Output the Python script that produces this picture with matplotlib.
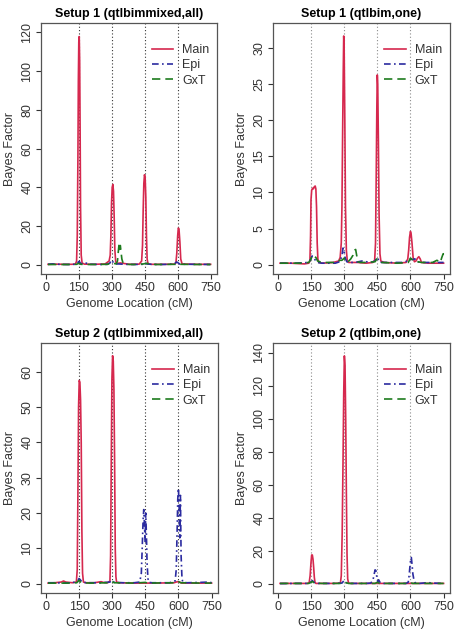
import numpy as np
import matplotlib
matplotlib.use("Agg")
import matplotlib.pyplot as plt

plt.rcParams['font.family'] = ['Liberation Sans', 'DejaVu Sans']

MAIN_COL = "#D6284E"
EPI_COL = "#2B2BA0"
GXT_COL = "#1E7B1E"

titles = ["Setup 1 (qtlbimmixed,all)", "Setup 1 (qtlbim,one)",
          "Setup 2 (qtlbimmixed,all)", "Setup 2 (qtlbim,one)"]
qtl_locs = [150, 300, 450, 600]
x_ticks = [0, 150, 300, 450, 600, 750]

# ---- Setup 1, qtlbimmixed/all ----
p1_main_x = [10, 40, 80, 120, 135, 140, 143, 146, 148, 150, 152, 154, 156, 158, 161, 165, 175, 220, 270,
             288, 293, 296, 299, 302, 305, 308, 311, 314, 318, 325, 340, 380, 425, 436, 440, 443, 446, 449,
             452, 455, 458, 461, 465, 480, 540, 585, 592, 596, 600, 603, 606, 610, 614, 620, 680, 750]
p1_main_y = [0.3, 0.4, 0.3, 0.3, 0.5, 2, 15, 55, 95, 115, 117.8, 105, 70, 30, 5, 1, 0.4, 0.3, 0.5,
             2, 5, 15, 32, 40, 41.5, 38, 25, 8, 1.5, 0.8, 1.0, 0.3, 0.4, 2, 10, 28, 42, 46.5,
             45, 35, 15, 3, 0.6, 0.3, 0.3, 0.4, 1, 6, 15, 19, 18.5, 12, 3, 0.5, 0.3, 0.3]
p1_epi_x = [10, 30, 60, 100, 130, 140, 148, 152, 158, 170, 180, 188, 195, 210, 250, 280, 292, 298, 303,
            308, 315, 330, 360, 400, 440, 448, 452, 458, 480, 520, 560, 585, 595, 600, 610, 640, 700, 750]
p1_epi_y = [0.3, 0.5, 0.3, 0.2, 0.3, 0.5, 1.5, 1.8, 0.8, 0.4, 1.0, 0.8, 0.3, 0.3, 0.2, 0.3, 1.0, 2.5, 2.0,
            1.0, 0.4, 0.5, 0.3, 0.2, 0.3, 1.0, 1.2, 0.5, 0.3, 0.2, 0.3, 0.5, 1.5, 1.2, 0.4, 0.3, 0.3, 0.2]
p1_gxt_x = [10, 100, 140, 150, 160, 200, 280, 300, 320, 326, 330, 333, 336, 339, 342, 346, 352, 360, 400,
            445, 455, 500, 590, 600, 610, 700, 750]
p1_gxt_y = [0.2, 0.2, 0.3, 0.8, 0.3, 0.2, 0.3, 1.0, 0.5, 2, 7, 10.5, 8, 10, 7, 3, 0.8, 0.3, 0.2,
            0.5, 0.8, 0.2, 0.3, 0.8, 0.3, 0.2, 0.2]

# ---- Setup 1, qtlbim/one ----
p2_main_x = [10, 60, 120, 140, 145, 148, 150, 153, 157, 161, 165, 169, 172, 175, 178, 181, 185, 200, 250,
             275, 282, 287, 290, 293, 296, 298, 300, 303, 306, 310, 314, 320, 360, 400, 430, 438, 442, 445,
             448, 450, 452, 455, 458, 462, 466, 480, 540, 580, 588, 592, 596, 600, 603, 607, 612, 618, 625,
             632, 638, 644, 650, 680, 740, 750]
p2_main_y = [0.2, 0.2, 0.1, 0.2, 0.5, 4, 9, 10.3, 10.6, 10.5, 10.8, 10.9, 10.5, 8, 3, 0.8, 0.3, 0.2, 0.3,
             0.5, 1, 3, 8, 18, 27, 31.7, 30, 20, 8, 2, 0.6, 0.3, 0.3, 0.2, 0.3, 0.6, 3, 12,
             22, 26.3, 25, 17, 7, 1.5, 0.5, 0.3, 0.2, 0.3, 0.8, 2, 3.8, 4.6, 4.3, 3, 1, 0.4, 0.5,
             0.9, 1.1, 0.8, 0.3, 0.2, 0.2, 0.2]
p2_epi_x = [10, 80, 140, 150, 155, 160, 170, 180, 200, 260, 280, 290, 295, 300, 305, 312, 320, 350, 380,
            400, 420, 440, 448, 452, 458, 470, 520, 560, 590, 600, 610, 620, 630, 660, 700, 750]
p2_epi_y = [0.2, 0.2, 0.3, 0.8, 1.2, 1.0, 0.6, 0.3, 0.2, 0.2, 0.4, 1.2, 2.3, 1.8, 0.9, 0.4, 0.3, 0.3, 0.5,
            0.4, 0.3, 0.5, 1.0, 0.9, 0.4, 0.3, 0.3, 0.3, 0.5, 0.8, 0.7, 0.8, 0.4, 0.3, 0.3, 0.3]
p2_gxt_x = [10, 100, 140, 150, 155, 165, 172, 180, 200, 250, 270, 280, 290, 300, 305, 315, 330, 340, 348,
            352, 356, 362, 372, 400, 440, 448, 455, 470, 540, 590, 600, 615, 650, 700, 720, 735, 742, 748, 752]
p2_gxt_y = [0.2, 0.2, 0.3, 0.8, 1.3, 1.1, 1.0, 0.5, 0.3, 0.3, 0.4, 0.6, 0.6, 0.9, 0.5, 0.3, 0.8, 1.3, 2.0,
            2.1, 1.4, 0.4, 0.3, 0.3, 0.4, 0.8, 0.6, 0.3, 0.2, 0.3, 0.9, 0.5, 0.3, 0.3, 0.6, 0.3, 1.0, 1.5, 1.5]

# ---- Setup 2, qtlbimmixed/all ----
p3_main_x = [10, 40, 70, 80, 90, 120, 138, 142, 145, 148, 151, 154, 157, 160, 163, 166, 170, 180, 220, 250,
             260, 280, 290, 293, 296, 299, 302, 305, 308, 311, 314, 317, 320, 330, 400, 500, 580, 595, 605,
             615, 680, 750]
p3_main_y = [0.2, 0.3, 0.5, 0.8, 0.5, 0.3, 0.5, 4, 25, 50, 57.5, 57, 52, 40, 15, 3, 0.5, 0.3, 0.3, 0.6,
             0.4, 0.3, 0.8, 8, 35, 58, 64.5, 63, 55, 35, 10, 2, 0.5, 0.3, 0.2, 0.2, 0.3, 0.6, 0.5,
             0.2, 0.2, 0.2]
p3_epi_x = [10, 40, 80, 120, 145, 150, 155, 165, 200, 250, 290, 300, 310, 350, 400, 425, 432, 436, 440, 443,
            446, 449, 452, 455, 458, 462, 466, 480, 520, 560, 585, 590, 594, 597, 600, 603, 606, 609, 612,
            616, 620, 640, 700, 740, 750]
p3_epi_y = [0.3, 0.3, 0.2, 0.3, 0.8, 1.5, 1.2, 0.4, 0.3, 0.3, 0.5, 1.0, 0.4, 0.3, 0.3, 0.5, 3, 10, 18, 21,
            17, 12, 20, 14, 6, 1.5, 0.4, 0.3, 0.3, 0.3, 0.8, 4, 15, 24, 27, 22, 13, 25, 8,
            1.5, 0.4, 0.3, 0.4, 0.5, 0.3]
p3_gxt_x = [10, 100, 140, 150, 160, 200, 290, 300, 310, 400, 450, 460, 590, 600, 610, 700, 750]
p3_gxt_y = [0.2, 0.2, 0.3, 1.0, 0.3, 0.2, 0.3, 0.6, 0.3, 0.2, 0.4, 0.2, 0.3, 0.6, 0.3, 0.2, 0.2]

# ---- Setup 2, qtlbim/one ----
p4_main_x = [10, 100, 135, 142, 146, 150, 153, 156, 159, 162, 165, 168, 172, 180, 250, 283, 287, 291, 295,
             298, 301, 304, 307, 310, 313, 316, 320, 330, 400, 500, 600, 700, 750]
p4_main_y = [0.3, 0.3, 0.3, 1, 5, 13, 17.5, 17.5, 15, 10, 4, 1, 0.3, 0.3, 0.3, 0.5, 5, 30, 75,
             115, 138, 132, 100, 55, 18, 3, 0.5, 0.3, 0.3, 0.3, 0.3, 0.3, 0.3]
p4_epi_x = [10, 80, 140, 150, 156, 162, 170, 200, 260, 290, 298, 304, 310, 320, 360, 400, 420, 430, 436,
            440, 444, 448, 452, 456, 460, 464, 468, 480, 540, 580, 590, 594, 598, 601, 604, 607, 611, 615,
            620, 626, 640, 680, 700, 750]
p4_epi_y = [0.2, 0.3, 0.3, 1.2, 2, 1.2, 0.3, 0.3, 0.3, 0.5, 1.8, 2.0, 0.8, 0.3, 0.3, 0.3, 0.5, 2, 6,
            8.5, 8, 4, 1.5, 2.5, 1.5, 0.5, 0.3, 0.3, 0.3, 0.3, 1, 5, 11, 15, 16, 12, 6, 3,
            1, 0.4, 0.3, 0.8, 0.5, 0.3]
p4_gxt_x = [10, 140, 150, 156, 165, 200, 290, 300, 306, 320, 440, 450, 460, 590, 600, 610, 750]
p4_gxt_y = [0.3, 0.3, 1.0, 1.5, 0.5, 0.3, 0.3, 1.0, 0.8, 0.3, 0.3, 1.0, 0.3, 0.3, 0.8, 0.3, 0.3]

panels = [
    (p1_main_x, p1_main_y, p1_epi_x, p1_epi_y, p1_gxt_x, p1_gxt_y),
    (p2_main_x, p2_main_y, p2_epi_x, p2_epi_y, p2_gxt_x, p2_gxt_y),
    (p3_main_x, p3_main_y, p3_epi_x, p3_epi_y, p3_gxt_x, p3_gxt_y),
    (p4_main_x, p4_main_y, p4_epi_x, p4_epi_y, p4_gxt_x, p4_gxt_y),
]
y_ticks = [list(range(0, 121, 20)), list(range(0, 31, 5)),
           list(range(0, 61, 10)), list(range(0, 141, 20))]
y_lims = [(-4.7, 124.8), (-1.3, 33.5), (-2.6, 68.1), (-5.5, 145.8)]

# axes boxes in pixels: left, top, right, bottom
W, H = 456, 630
boxes = [(41, 23, 217, 274), (273, 23, 450, 274),
         (41, 343, 218, 593), (273, 343, 450, 593)]
vline_cols = ["#333333", "#8c8c8c", "#333333", "#8c8c8c"]

fig = plt.figure(figsize=(W / 100, H / 100), dpi=100)

for i in range(4):
    l, t, r, b = boxes[i]
    ax = fig.add_axes([l / W, 1 - b / H, (r - l) / W, (b - t) / H])
    mx, my, ex, ey, gx, gy = panels[i]
    for q in qtl_locs:
        ax.axvline(q, color=vline_cols[i], ls=(0, (1.0, 2.0)), lw=0.8, zorder=1)
    ax.plot(mx, my, color=MAIN_COL, lw=1.2, label="Main", zorder=3)
    ax.plot(ex, ey, color=EPI_COL, lw=1.2, ls=(0, (4, 2, 1, 2)), label="Epi", zorder=4)
    ax.plot(gx, gy, color=GXT_COL, lw=1.2, ls=(0, (5, 3)), label="GxT", zorder=5)

    ax.set_xlim(-22, 779)
    ax.set_ylim(*y_lims[i])
    ax.set_xticks(x_ticks)
    ax.set_yticks(y_ticks[i])
    ax.set_yticklabels([str(v) for v in y_ticks[i]], rotation=90, va="center")
    ax.tick_params(direction="out", length=3.6, width=0.8, colors="#333333",
                   labelsize=9, pad=2)
    for s in ax.spines.values():
        s.set_color("#555555")
        s.set_linewidth(0.9)
    ax.set_title(titles[i], fontsize=9, fontweight="bold", pad=4)
    ax.set_xlabel("Genome Location (cM)", fontsize=9, color="#333333", labelpad=3)
    ax.set_ylabel("Bayes Factor", fontsize=9, color="#333333", labelpad=4)
    leg = ax.legend(loc="upper left", bbox_to_anchor=(0.6, 0.935), frameon=False,
                    fontsize=9, handlelength=1.75, handletextpad=0.7, labelspacing=0.25,
                    borderaxespad=0)
    for txt in leg.get_texts():
        txt.set_color("#333333")

fig.savefig("out.png", dpi=100)
